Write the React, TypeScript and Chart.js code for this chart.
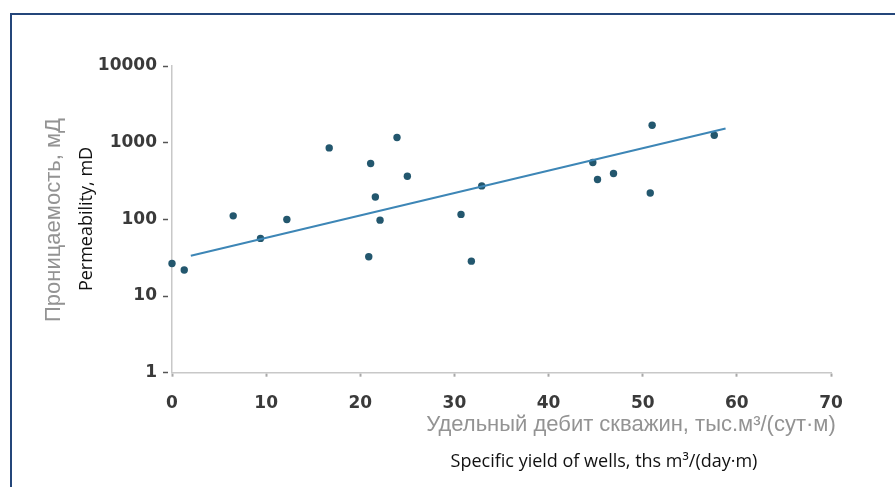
import React, { useEffect, useRef } from "react";
import { Chart, registerables } from "chart.js";

Chart.register(...registerables);

// Specific yield of wells (ths m3/(day·m)) vs permeability (mD)
const yieldX = [0, 1.3, 6.5, 9.4, 12.2, 16.7, 21.1, 21.6, 20.9, 22.1, 23.9, 25.0, 30.7, 31.8, 32.9, 44.7, 45.2, 46.9, 50.8, 51.0, 57.6];
const permY = [26.6, 21.8, 111, 56.4, 99.7, 855, 535, 196, 32.5, 97.6, 1167, 365, 116, 28.5, 273, 551, 331, 396, 221, 1688, 1250];

// Exponential trend line end points
const trendX = [2.0, 58.8];
const trendY = [33.5, 1528];

const xTicks = [0, 10, 20, 30, 40, 50, 60, 70];
const yTicks = [1, 10, 100, 1000, 10000];

const yTitleRu = "Проницаемость, мД";
const yTitleEn = "Permeability, mD";
const xTitleRu = "Удельный дебит скважин, тыс.м³/(сут·м)";
const xTitleEn = "Specific yield of wells, ths m³/(day·m)";

const titlesPlugin = {
  id: "titlesPlugin",
  afterDraw(chart: any) {
    const ctx = chart.ctx as CanvasRenderingContext2D;
    ctx.save();
    ctx.textAlign = "center";
    ctx.textBaseline = "middle";
    // Y titles (rotated)
    ctx.save();
    ctx.translate(54, 220);
    ctx.rotate(-Math.PI / 2);
    ctx.fillStyle = "#939393";
    ctx.font = "22px 'Liberation Sans', Arial, sans-serif";
    ctx.fillText(yTitleRu, 0, 0);
    ctx.restore();
    ctx.save();
    ctx.translate(87, 219);
    ctx.rotate(-Math.PI / 2);
    ctx.fillStyle = "#111";
    ctx.font = "18px 'Open Sans', sans-serif";
    ctx.fillText(yTitleEn, 0, 0);
    ctx.restore();
    // X titles
    ctx.fillStyle = "#939393";
    ctx.font = "22px 'Liberation Sans', Arial, sans-serif";
    ctx.fillText(xTitleRu, 631, 425);
    ctx.fillStyle = "#111";
    ctx.font = "18px 'Open Sans', sans-serif";
    ctx.fillText(xTitleEn, 604, 462);
    ctx.restore();
  },
};

export default function App() {
  const ref = useRef<HTMLCanvasElement | null>(null);

  useEffect(() => {
    document.body.style.margin = "0";
    if (!ref.current) return;
    const tickFont = { family: "'DejaVu Sans', sans-serif", size: 17, weight: "bold" as const };
    const chart = new Chart(ref.current, {
      type: "scatter",
      data: {
        datasets: [
          {
            type: "line",
            label: "trend",
            data: trendX.map((x, i) => ({ x, y: trendY[i] })),
            borderColor: "#3d86b6",
            borderWidth: 2,
            pointRadius: 0,
            fill: false,
            clip: false,
          } as any,
          {
            label: "wells",
            data: yieldX.map((x, i) => ({ x, y: permY[i] })),
            backgroundColor: "#23576e",
            borderColor: "#23576e",
            pointRadius: 3.7,
            pointBorderWidth: 0,
            clip: false,
          } as any,
        ],
      },
      options: {
        animation: false,
        responsive: false,
        maintainAspectRatio: false,
        layout: { padding: { left: 0, right: 64, top: 66, bottom: 0 } },
        plugins: { legend: { display: false }, tooltip: { enabled: false } },
        scales: {
          x: {
            type: "linear",
            min: 0,
            max: 70,
            afterBuildTicks: (s: any) => {
              s.ticks = xTicks.map((v) => ({ value: v }));
            },
            afterFit: (s: any) => {
              s.height = 114.3;
            },
            grid: {
              drawOnChartArea: false,
              drawTicks: true,
              tickLength: 4,
              tickWidth: 2,
              tickColor: "#a8a8a8",
            },
            border: { color: "#c8c8c8", width: 1.5 },
            ticks: {
              font: tickFont,
              color: "#3a3a3a",
              padding: 17,
              maxRotation: 0,
              autoSkip: false,
              callback: (v: any) => String(v),
            },
          },
          y: {
            type: "logarithmic",
            min: 1,
            max: 10000,
            afterBuildTicks: (s: any) => {
              s.ticks = yTicks.map((v) => ({ value: v }));
            },
            afterFit: (s: any) => {
              s.width = 172;
            },
            grid: {
              drawOnChartArea: false,
              drawTicks: true,
              tickLength: 9,
              tickWidth: 1.5,
              tickColor: "#555",
              tickBorderDash: [5, 10],
            } as any,
            border: { color: "#c8c8c8", width: 1.5 },
            ticks: {
              font: tickFont,
              color: "#3a3a3a",
              padding: 6,
              autoSkip: false,
              callback: (v: any) => String(v),
            },
          },
        },
      },
      plugins: [titlesPlugin],
    });
    return () => chart.destroy();
  }, []);

  return (
    <div style={{ position: "relative", width: 895, height: 487, background: "#fff" }}>
      <canvas ref={ref} width={895} height={487} style={{ display: "block" }} />
      <div
        style={{
          position: "absolute",
          left: 10,
          top: 13,
          right: 0,
          bottom: 0,
          borderTop: "2px solid #24467a",
          borderLeft: "2px solid #24467a",
          pointerEvents: "none",
        }}
      />
    </div>
  );
}
